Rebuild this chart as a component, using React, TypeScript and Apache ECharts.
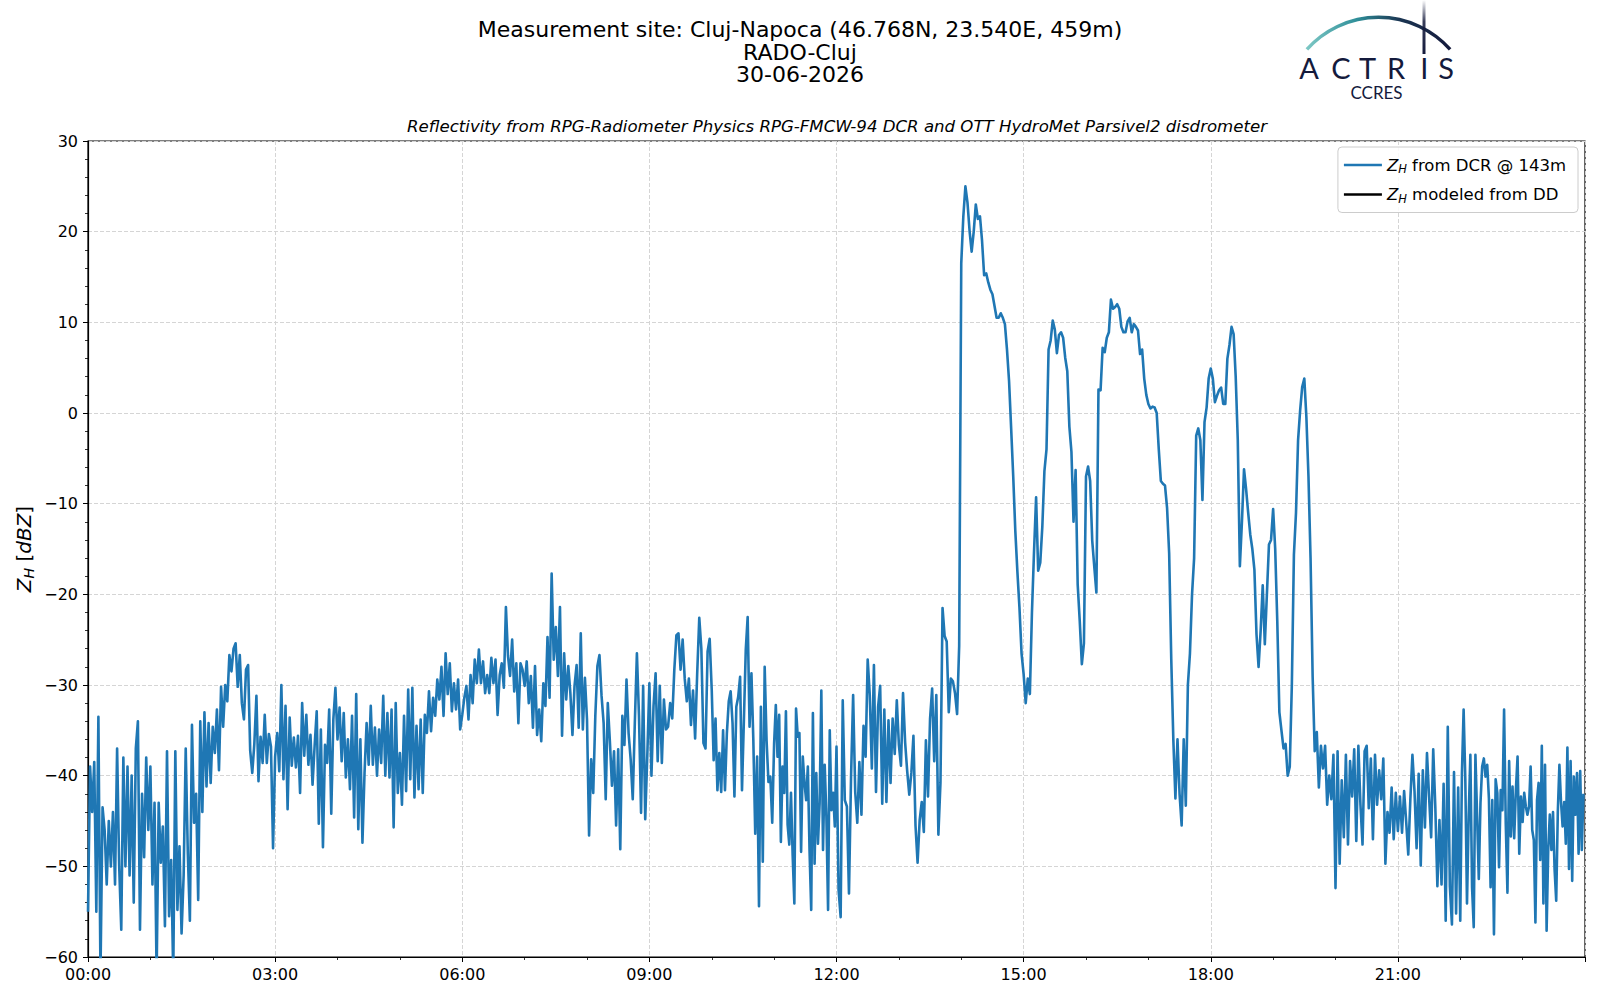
import React, { useEffect, useRef } from "react";
import * as echarts from "echarts";

// ---- Reflectivity from DCR @ 143m, values per hour (dBZ), evenly spaced within each hour ----
const h00 = [-55, -39, -44, -38.5, -55, -33.5, -62, -43.5, -46, -52, -45, -50, -44, -52, -37, -50, -57, -38, -50, -39, -51, -40, -54, -37, -34, -57, -42, -49, -38, -46];
const h01 = [-39, -52, -43, -62, -43, -49.6, -45.6, -56.6, -37.3, -55.5, -49.3, -62, -37.3, -54.8, -47.8, -57.4, -51, -37, -48.5, -56, -34.4, -45.2, -42, -53.7, -34, -44, -33, -41.2, -34.2, -40.8];
const h02 = [-34.6, -37.5, -32.7, -39.4, -30.2, -34.6, -30, -31.8, -26.7, -28.5, -26, -25.4, -30.2, -26.7, -32, -33.8, -28.3, -27.8, -37.2, -39.7, -36.5, -31.2, -40.6, -35.7, -38.6, -33.3, -38.6, -35.4, -36.8, -48];
const h03 = [-37.9, -35.3, -39.5, -30, -40.4, -32.3, -43.7, -33.6, -38.9, -35.8, -39.1, -35.6, -41.9, -32, -37.8, -33.3, -38.8, -35.5, -41, -36.7, -32.9, -45.3, -34.9, -47.9, -36.6, -38.6, -32.7, -44.2, -33.8, -30.3];
const h04 = [-36, -32.5, -38.4, -33.1, -40.2, -36, -41.5, -33.4, -44.6, -31, -45.9, -36, -47.4, -39.7, -34.2, -38.8, -32.3, -38.8, -34.7, -40, -34.9, -38.6, -31.2, -40, -33.1, -40.2, -32.7, -45.7, -32, -41.9];
const h05 = [-37.5, -43.2, -33.4, -41.7, -30.5, -40.4, -30.3, -42.4, -34.5, -41.5, -33.8, -41.9, -33.3, -35.3, -30.7, -35.1, -31.4, -33.4, -29.4, -31.6, -28, -33.4, -26.5, -31, -27.6, -32.9, -29.8, -32.7, -29.4, -34.9];
const h06 = [-33.3, -31.4, -30.1, -33.8, -28.9, -32, -27.2, -29.8, -26.1, -29.8, -27.4, -30.9, -28.9, -30.9, -27, -29.8, -27.2, -33.3, -28.9, -27.6, -30.3, -21.4, -26.8, -29, -25, -30.7, -27.6, -34.2, -27.6, -28.3];
const h07 = [-30.1, -27.4, -32, -29, -34.7, -27.9, -35.5, -32.7, -36.2, -29.8, -32.3, -24.7, -31.4, -17.7, -27.2, -23.6, -29, -21.4, -35.6, -26.5, -31.6, -27.9, -30.9, -35.5, -30.1, -27.8, -34.7, -24.3, -34.9, -29.2];
const h08 = [-33.8, -46.6, -38.2, -41.9, -33.4, -27.9, -26.7, -31.2, -34.2, -42.6, -32, -36.2, -41.1, -37.3, -45.5, -37.1, -48.1, -33.4, -36.6, -29.4, -35.3, -38.2, -42.6, -34.2, -26.5, -33.4, -44.1, -30.1, -44.8, -37.8];
const h09 = [-29.8, -40, -32.3, -28.7, -38.4, -30.1, -38.6, -31.6, -34.9, -34.6, -32, -33.7, -28.3, -24.5, -24.3, -28.3, -25, -29.3, -31.8, -29.3, -34.4, -30.6, -35.9, -28.7, -22.6, -26, -36.4, -37, -26.3, -24.9];
const h10 = [-30.6, -38.3, -33.7, -41.6, -37.5, -41.8, -35, -41.6, -35.3, -31.8, -30.7, -34.2, -42.3, -32.4, -31.3, -29.1, -41.6, -33.9, -26.1, -22.5, -34.6, -28.7, -36.1, -46.4, -37.9, -54.4, -32.4, -49.5, -28, -36.1, -40.7, -40.1, -45.2];
const h11 = [-36.4, -32.2, -37.9, -33.3, -47.3, -39, -41.9, -32.9, -45.4, -47.6, -41.9, -48.8, -54.1, -32.6, -35.7, -35.3, -48.4, -37.9, -40.8, -42.7, -39, -48.2, -54.8, -33.1, -49.7, -39.7, -47.5, -43, -30.6, -48.2, -38.8, -44.5, -54.8, -35, -43.8, -41.9, -45.6];
const h12 = [-36.8, -52.6, -55.6, -31.7, -42.7, -43.4, -53, -40.1, -31.1, -41.8, -45.2, -38.5, -44.3, -34.5, -37.9, -27.2, -31.1, -39.2, -27.8, -41.8, -32.4, -30.1, -43.1, -32.7, -42.9, -33.9, -40.8, -33.7, -37.6, -31.7];
const h13 = [-36.6, -38.9, -30.9, -36.3, -39.5, -42.1, -39.7, -35.6, -45.5, -49.6, -44.9, -42.9, -46.2, -36.1, -42.3, -33.7, -30.4, -38.4, -31.1, -46.5, -40.8, -21.5, -24.6, -25.2, -33, -29.3, -29.6, -30.9, -33.2, -25.7];
const h14 = [16.5, 21.7, 25, 23.2, 20.1, 17.8, 20, 23, 21.4, 21.7, 19, 15.2, 15.4, 14.4, 13.6, 13.1, 11.8, 10.5, 10.5, 11, 10.5, 9.8, 7, 3.5, -1.7, -7, -13, -17.5, -21.5, -26.5];
const h15 = [-28.8, -32, -29.3, -31, -22, -15.3, -9.3, -17.4, -16.5, -12.5, -6.4, -4, 7, 8, 10.2, 9.2, 6.6, 8.6, 8.9, 8.3, 6.1, 4.6, -1.5, -4.3, -12, -6.3, -18.9, -23, -27.7, -25.4];
const h16 = [-7, -5.9, -7.5, -14.1, -17, -19.8, 2.6, 2.5, 7.2, 6.7, 8.3, 8.9, 12.5, 11.5, 11.7, 12, 11.5, 9.5, 8.9, 8.9, 10.1, 10.5, 8.9, 9.8, 9.5, 9.1, 6.5, 7, 3.8, 2];
const h17 = [1, 0.5, 0.7, 0.6, 0, -4, -7.5, -7.8, -8, -10.5, -15.5, -27.1, -36, -42.5, -36, -42, -45.5, -36, -43.3, -30, -26.5, -20, -16, -2.5, -1.7, -3, -9.6, -1, 0.6, 3.8];
const h18 = [4.9, 3.8, 1.2, 1.9, 2.5, 2.8, 1, 1, 6, 7.5, 9.5, 8.7, 4, -3, -16.9, -12, -6.2, -8.4, -11, -13.4, -15, -17.3, -24.4, -28, -24, -19, -25.5, -20, -14.5, -14];
const h19 = [-10.6, -15, -23, -33, -35, -37, -36.5, -40, -39, -30, -15.6, -11, -3, 0.3, 2.9, 3.8, -0.5, -7, -16, -29, -37.3, -35.2, -41.3, -36.7, -39.2, -36.7, -43.2, -40, -42.6, -37.7];
const h20 = [-52.4, -37.3, -49.7, -40.5, -46.8, -37.7, -47.6, -38.4, -42.3, -37.1, -47.2, -36.7, -43.2, -47.6, -37.3, -36.7, -43.6, -38.1, -47, -37.7, -43.2, -39.4, -42.6, -38.1, -49.7, -44, -46.3, -41.3, -47, -41.9];
const h21 = [-46.1, -42.3, -46.3, -41.7, -45.1, -48.7, -42.6, -37.7, -41.7, -48, -39.8, -49.9, -39.4, -45.7, -37.5, -42.3, -46.8, -37.1, -43.4, -52.2, -44.9, -52, -40.9, -56, -34.6, -52.2, -56.4, -39.6, -55.2, -41.3];
const h22 = [-56, -39.7, -32.7, -40.4, -54.1, -44.5, -37.7, -52.3, -56.7, -37.7, -44.5, -51.4, -43, -39, -38.1, -40.1, -38.8, -42.5, -52.3, -42.7, -57.5, -40.4, -41.9, -50.1, -41.6, -43.8, -32.7, -45.3, -52.9, -38.4, -46.7, -41.2, -46.9, -41.6, -37.9, -48.6, -42.3];
const h23 = [-45.1, -41.9, -43.4, -44.3, -43.4, -39, -46, -47.1, -56.2, -42.7, -40.8, -49.3, -36.7, -54.1, -38.8, -57.1, -48.2, -44.3, -48.2, -44, -50.4, -53.8, -44, -38.8, -42.9, -45.6, -42.9, -47.5, -36.9, -50.3, -38.4, -51.6, -40.1, -44.3, -39.7, -48.6, -39.5, -48.2, -42];

const hourlyDCR = [h00, h01, h02, h03, h04, h05, h06, h07, h08, h09, h10, h11, h12, h13, h14, h15, h16, h17, h18, h19, h20, h21, h22, h23];
// Modeled reflectivity from the disdrometer: no valid samples on this day
const modeledDD: number[][] = [];

const titleLines = ["Measurement site: Cluj-Napoca (46.768N, 23.540E, 459m)", "RADO-Cluj", "30-06-2026"];
const subtitle = "Reflectivity from RPG-Radiometer Physics RPG-FMCW-94 DCR and OTT HydroMet Parsivel2 disdrometer";
const seriesNames = ["dcr", "dd"];
const seriesColors = ["#1f77b4", "#000000"];
const legendLabels = ["{i|Z}{sub|H} from DCR @ 143m", "{i|Z}{sub|H} modeled from DD"];
const logoLetters = ["A", "C", "T", "R", "I", "S"];
const logoLetterX = [1309, 1341, 1367.5, 1396, 1424.3, 1446];

const FONT = "DejaVu Sans";
const NAVY = "#141a3c";

function buildData(): number[][] {
  const out: number[][] = [];
  hourlyDCR.forEach((arr, h) => {
    arr.forEach((v, i) => {
      out.push([h + i / arr.length, v]);
    });
  });
  return out;
}

export default function App() {
  const ref = useRef<HTMLDivElement>(null);
  useEffect(() => {
    if (!ref.current) return;
    const chart = echarts.init(ref.current, null, { renderer: "svg" });
    const richZ = {
      i: { fontStyle: "italic", fontSize: 16.5, fontFamily: FONT, color: "#000", lineHeight: 20, verticalAlign: "middle" },
      sub: { fontStyle: "italic", fontSize: 11.5, fontFamily: FONT, color: "#000", lineHeight: 11, verticalAlign: "bottom" },
    };
    const graphics: any[] = [];
    const titleY = [29.5, 52, 74.5];
    titleLines.forEach((t, k) => {
      graphics.push({
        type: "text", x: 800, y: titleY[k],
        style: { text: t, fontFamily: FONT, fontSize: 22, fill: "#000", align: "center", verticalAlign: "middle" },
      });
    });
    graphics.push({
      type: "text", x: 837, y: 126,
      style: { text: subtitle, fontFamily: FONT, fontSize: 16.6, fontStyle: "italic", fill: "#000", align: "center", verticalAlign: "middle" },
    });
    // y axis name
    graphics.push({
      type: "text", x: 24, y: 549, rotation: Math.PI / 2,
      style: {
        text: "{i|Z}{sub|H} [{i|dBZ}]",
        fontFamily: FONT, fontSize: 20, fill: "#000", align: "center", verticalAlign: "middle",
        rich: {
          i: { fontStyle: "italic", fontSize: 20, fontFamily: FONT, fill: "#000", lineHeight: 24, verticalAlign: "middle" },
          sub: { fontStyle: "italic", fontSize: 14, fontFamily: FONT, fill: "#000", lineHeight: 13, verticalAlign: "bottom" },
        },
      },
    });
    // logo
    const a0 = (-138.3 * Math.PI) / 180;
    const a1 = (-41.7 * Math.PI) / 180;
    graphics.push({
      type: "arc",
      shape: { cx: 1378.5, cy: 113.2, r: 95.9, startAngle: a0, endAngle: a1, clockwise: true },
      style: {
        fill: "none", lineWidth: 3.5,
        stroke: new echarts.graphic.LinearGradient(0, 0, 1, 0, [
          { offset: 0, color: "#7cc7c4" },
          { offset: 0.35, color: "#2f8f99" },
          { offset: 0.65, color: "#1b3552" },
          { offset: 1, color: NAVY },
        ]),
      },
    });
    graphics.push({
      type: "rect",
      shape: { x: 1422.5, y: 0, width: 3, height: 54 },
      style: {
        fill: new echarts.graphic.LinearGradient(0, 0, 0, 1, [
          { offset: 0, color: "rgba(20,26,60,0)" },
          { offset: 0.4, color: "rgba(20,26,60,0.85)" },
          { offset: 1, color: NAVY },
        ]),
      },
    });
    logoLetters.forEach((ch, k) => {
      graphics.push({
        type: "text", x: logoLetterX[k], y: 67,
        style: { text: ch, fontFamily: "Lato", fontWeight: "normal", fontSize: 29, fill: NAVY, align: "center", verticalAlign: "middle" },
      });
    });
    graphics.push({
      type: "text", x: 1376.5, y: 92,
      style: { text: "CCRES", fontFamily: "Lato", fontSize: 17, fill: NAVY, align: "center", verticalAlign: "middle" },
    });

    const gridLine = { show: true, lineStyle: { color: "#d5d5d5", type: [4, 2], width: 1 } };
    const option: any = {
      animation: false,
      backgroundColor: "#ffffff",
      textStyle: { fontFamily: FONT },
      grid: { left: 88, right: 15, top: 141, bottom: 43, show: true, borderColor: "#000", borderWidth: 1.2, backgroundColor: "transparent" },
      xAxis: {
        type: "value", min: 0, max: 24, interval: 3,
        axisLine: { show: true, onZero: false, lineStyle: { color: "#000", width: 1.2 } },
        axisTick: { show: true, length: 5, lineStyle: { color: "#000", width: 1 } },
        minorTick: { show: true, splitNumber: 3, length: 3, lineStyle: { color: "#000", width: 0.8 } },
        axisLabel: {
          fontFamily: FONT, fontSize: 16, color: "#000", margin: 9, showMaxLabel: false,
          formatter: (v: number) => (v >= 24 ? "" : String(v).padStart(2, "0") + ":00"),
        },
        splitLine: gridLine,
      },
      yAxis: {
        type: "value", min: -60, max: 30, interval: 10,
        axisLine: { show: true, onZero: false, lineStyle: { color: "#000", width: 1.2 } },
        axisTick: { show: true, length: 5, lineStyle: { color: "#000", width: 1 } },
        minorTick: { show: true, splitNumber: 5, length: 3, lineStyle: { color: "#000", width: 0.8 } },
        axisLabel: {
          fontFamily: FONT, fontSize: 16, color: "#000", margin: 10,
          formatter: (v: number) => String(v).replace("-", "\u2212"),
        },
        splitLine: gridLine,
      },
      legend: {
        data: seriesNames.map((n, k) => ({ name: n, icon: "rect", itemStyle: { color: seriesColors[k] } })),
        orient: "vertical", right: 22, top: 147,
        itemWidth: 38, itemHeight: 2.4, itemGap: 9.5,
        padding: [8, 12, 8, 6],
        borderColor: "#cccccc", borderWidth: 1, borderRadius: 4,
        backgroundColor: "rgba(255,255,255,0.85)",
        textStyle: { fontFamily: FONT, fontSize: 16.5, color: "#000", lineHeight: 20, rich: richZ },
        formatter: (name: string) => legendLabels[seriesNames.indexOf(name)],
      },
      series: [
        {
          name: seriesNames[0], type: "line", data: buildData(), symbol: "none", showSymbol: false,
          lineStyle: { color: seriesColors[0], width: 2.6, join: "round" }, itemStyle: { color: seriesColors[0] },
          clip: true, z: 3,
        },
        {
          name: seriesNames[1], type: "line", data: modeledDD, symbol: "none", showSymbol: false,
          lineStyle: { color: seriesColors[1], width: 2 }, itemStyle: { color: seriesColors[1] }, z: 4,
        },
      ],
      graphic: graphics,
    };
    chart.setOption(option);
    return () => chart.dispose();
  }, []);
  return <div ref={ref} style={{ position: "absolute", left: 0, top: 0, width: 1600, height: 1000 }} />;
}
